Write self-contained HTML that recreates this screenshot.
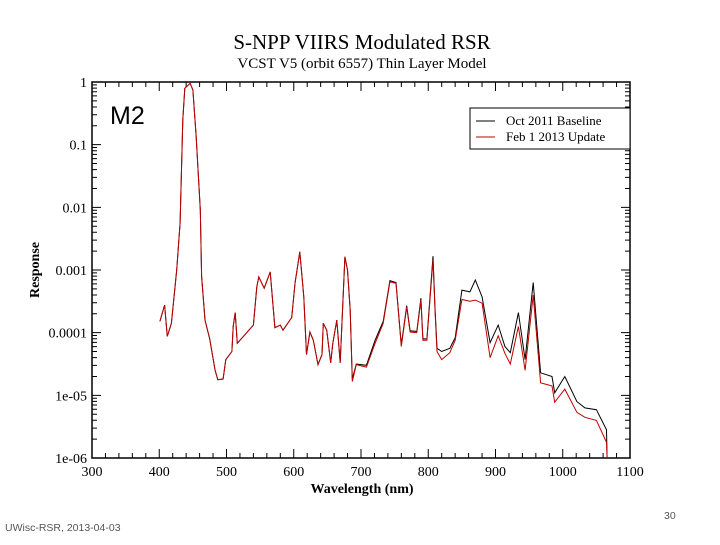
<!DOCTYPE html>
<html><head><meta charset="utf-8"><style>
html,body{margin:0;padding:0;background:#fff;}
body{width:720px;height:540px;position:relative;overflow:hidden;font-family:"Liberation Serif",serif;}
</style></head><body>
<svg id="chart" width="720" height="540" viewBox="0 0 720 540" xmlns="http://www.w3.org/2000/svg">
<text x="362" y="49" text-anchor="middle" font-family="Liberation Serif" font-size="21">S-NPP VIIRS Modulated RSR</text>
<text x="362" y="68" text-anchor="middle" font-family="Liberation Serif" font-size="15">VCST V5 (orbit 6557) Thin Layer Model</text>
<g id="axes"></g>
<g id="series"></g>
<text x="110" y="124" font-family="Liberation Sans" font-size="25">M2</text>
<g>
<rect x="470" y="108" width="160" height="41" fill="#fff" stroke="#000" stroke-width="1"/>
<line x1="476" y1="121" x2="495" y2="121" stroke="#000"/>
<text x="506" y="125" font-size="13">Oct 2011 Baseline</text>
<line x1="476" y1="137" x2="495" y2="137" stroke="#c00000"/>
<text x="506" y="141" font-size="13">Feb 1 2013 Update</text>
</g>
<text transform="translate(39,270) rotate(-90)" text-anchor="middle" font-weight="bold" font-size="14">Response</text>
<text x="362" y="493" text-anchor="middle" font-weight="bold" font-size="14">Wavelength (nm)</text>
<text x="5" y="531" font-family="Liberation Sans" font-size="10.5" fill="#555">UWisc-RSR, 2013-04-03</text>
<text x="664" y="519" font-family="Liberation Sans" font-size="10.5" fill="#555">30</text>
</svg>
<script>
// wavelength (nm)
const wavelengths = [401,408,412,418,426,431,435,438,446,450,455,461,463,468,475,483,487,495,499,508,510,513,516,540,545,548,556,565,572,580,584,597,602,609,615,619,624,629,636,642,644,649,655,658,664,669,676,680,684,687,693,708,721,733,743,752,760,768,773,783,789,792,798,807,810,813,820,832,840,850,862,870,880,892,904,914,922,934,944,956,967,984,988,1003,1021,1033,1050,1065,1066];
// log10(response), Oct 2011 baseline
const baselineLog = [-3.82,-3.56,-4.06,-3.85,-3.0,-2.25,-0.6,-0.1,-0.02,-0.13,-0.88,-2.04,-3.1,-3.8,-4.1,-4.6,-4.75,-4.74,-4.43,-4.3,-3.9,-3.68,-4.17,-3.88,-3.27,-3.11,-3.29,-3.03,-3.92,-3.88,-3.96,-3.76,-3.2,-2.71,-3.43,-4.35,-3.99,-4.12,-4.51,-4.35,-3.85,-3.96,-4.48,-4.17,-3.8,-4.48,-2.79,-3.0,-3.64,-4.74,-4.5,-4.52,-4.12,-3.82,-3.17,-3.2,-4.2,-3.57,-3.97,-3.98,-3.45,-4.1,-4.1,-2.78,-3.6,-4.25,-4.3,-4.25,-4.08,-3.32,-3.35,-3.16,-3.43,-4.16,-3.88,-4.22,-4.32,-3.68,-4.43,-3.2,-4.64,-4.7,-4.96,-4.7,-5.1,-5.2,-5.23,-5.55,-6.0];
// log10(response), Feb 1 2013 update
const updateLog = [-3.82,-3.56,-4.06,-3.85,-3.0,-2.25,-0.6,-0.1,-0.02,-0.13,-0.88,-2.04,-3.1,-3.8,-4.1,-4.6,-4.75,-4.74,-4.43,-4.3,-3.9,-3.68,-4.17,-3.88,-3.27,-3.11,-3.29,-3.03,-3.92,-3.88,-3.96,-3.76,-3.2,-2.71,-3.43,-4.35,-3.99,-4.12,-4.51,-4.35,-3.85,-3.96,-4.48,-4.17,-3.8,-4.48,-2.79,-3.0,-3.64,-4.78,-4.51,-4.55,-4.17,-3.85,-3.19,-3.21,-4.22,-3.59,-3.99,-4.0,-3.48,-4.12,-4.12,-2.84,-3.64,-4.3,-4.43,-4.32,-4.12,-3.47,-3.5,-3.48,-3.53,-4.4,-4.05,-4.33,-4.5,-3.9,-4.6,-3.4,-4.8,-4.85,-5.11,-4.9,-5.27,-5.35,-5.4,-5.75,-6.0];
const xTicks = [300,400,500,600,700,800,900,1000,1100];
const yTickLabels = ["1","0.1","0.01","0.001","0.0001","1e-05","1e-06"];
const yTickExps = [0,-1,-2,-3,-4,-5,-6];

const L=92,R=630,T=82,B=458;
const xs = v => L + (v-300)/(1100-300)*(R-L);
const ys = e => T + (0-e)/6*(B-T);
const NS="http://www.w3.org/2000/svg";
const axes=document.getElementById('axes'), ser=document.getElementById('series');
function mk(tag,attrs,parent){const e=document.createElementNS(NS,tag);for(const k in attrs)e.setAttribute(k,attrs[k]);parent.appendChild(e);return e;}

const frame=mk('rect',{x:L,y:T,width:R-L,height:B-T,fill:'none',stroke:'#000','stroke-width':1.5},axes);



let d='';
for(let v=300;v<=1100;v+=20){const x=xs(v);const len=(v%100===0)?9:5;d+=`M${x},${B}v${-len}M${x},${T}v${len}`;}
for(let e=0;e>-6;e--){for(let m=1;m<=9;m++){const y=ys(e-1+Math.log10(m));const len=(m===1)?9:5;d+=`M${L},${y}h${len}M${R},${y}h${-len}`;}}
const tk=mk('path',{d:d,stroke:'#000','stroke-width':1,fill:'none'},axes);



xTicks.forEach(v=>{const t=mk('text',{x:xs(v),y:B+18,'text-anchor':'middle','font-size':14},axes);t.textContent=v;

});
yTickExps.forEach((e,i)=>{const t=mk('text',{x:L-5,y:ys(e)+5,'text-anchor':'end','font-size':14},axes);t.textContent=yTickLabels[i];

});

function line(vals,color,name){const p=vals.map((e,i)=>`${i?'L':'M'}${xs(wavelengths[i]).toFixed(1)},${ys(e).toFixed(1)}`).join('');
const el=mk('path',{d:p,stroke:color,'stroke-width':1,fill:'none'},ser);

}
line(baselineLog,'#000','series-oct-2011-baseline');
line(updateLog,'#c00000','series-feb-2013-update');
</script>
</body></html>
